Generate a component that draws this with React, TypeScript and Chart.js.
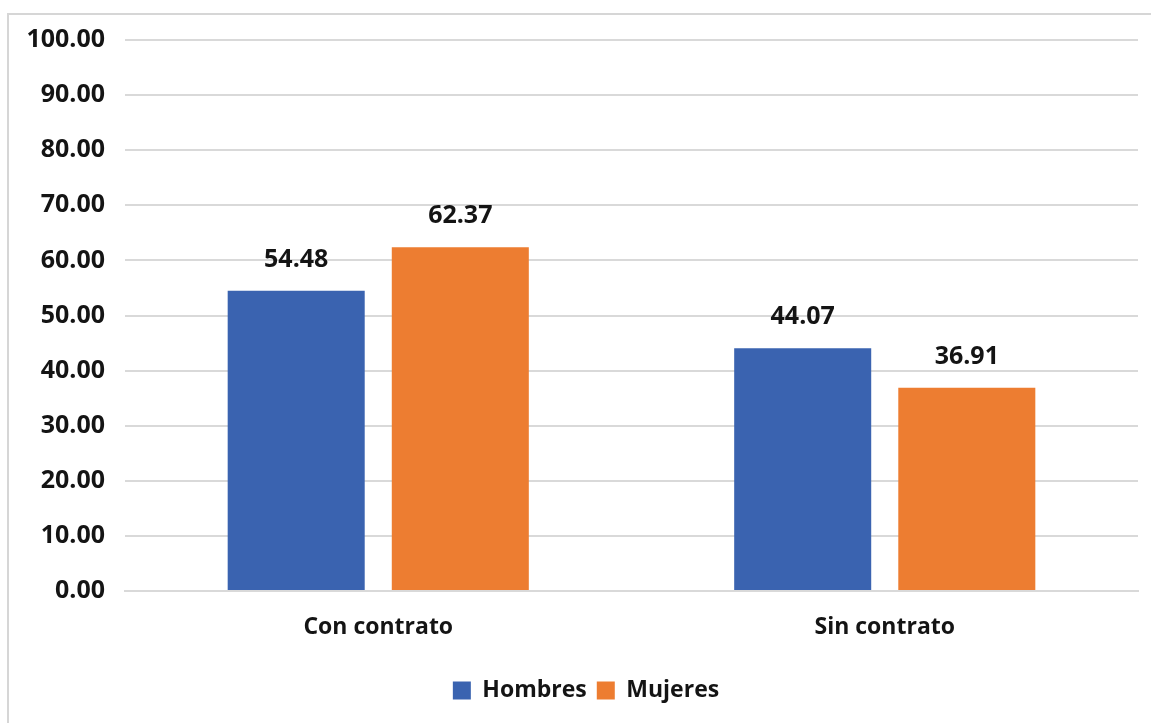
import React, { useEffect, useRef } from "react";
import { Chart, registerables } from "chart.js";

Chart.register(...registerables);

const categories = ["Con contrato", "Sin contrato"];
const hombres = [54.48, 44.07];
const mujeres = [62.37, 36.91];
const seriesNames = ["Hombres", "Mujeres"];
const yTicks = [0, 10, 20, 30, 40, 50, 60, 70, 80, 90, 100];

const BLUE = "#3A63B0";
const ORANGE = "#ED7D31";
const FONT = "'Open Sans', Lato, sans-serif";
const TEXT = "#141414";

const valueLabels = {
  id: "valueLabels",
  afterDatasetsDraw(chart: any) {
    const ctx = chart.ctx;
    ctx.save();
    ctx.font = `bold 25px ${FONT}`;
    ctx.fillStyle = TEXT;
    ctx.textAlign = "center";
    ctx.textBaseline = "middle";
    chart.data.datasets.forEach((ds: any, i: number) => {
      const meta = chart.getDatasetMeta(i);
      meta.data.forEach((el: any, j: number) => {
        ctx.fillText(Number(ds.data[j]).toFixed(2), el.x, el.y - 31);
      });
    });
    ctx.restore();
  },
};

// centre the legend a little to the right, as in the reference
const legendShift = {
  id: "legendShift",
  afterLayout(chart: any) {
    const lg = chart.legend;
    if (lg) {
      lg.left += 34;
    }
  },
};

export default function App() {
  const ref = useRef<HTMLCanvasElement>(null);
  useEffect(() => {
    if (!ref.current) return;
    const chart = new Chart(ref.current, {
      type: "bar",
      data: {
        labels: categories,
        datasets: [
          { label: seriesNames[0], data: hombres, backgroundColor: BLUE },
          { label: seriesNames[1], data: mujeres, backgroundColor: ORANGE },
        ],
      },
      options: {
        animation: false,
        responsive: false,
        devicePixelRatio: 1,
        layout: { padding: { top: 40, right: 13, bottom: 11, left: 0 } },
        datasets: {
          bar: { categoryPercentage: 0.648, barPercentage: 0.835 },
        } as any,
        scales: {
          x: {
            grid: { display: false },
            border: { color: "#d9d9d9", width: 2 },
            ticks: {
              color: TEXT,
              font: { family: FONT, size: 23, weight: "bold" },
              padding: 15,
            },
            afterFit: (scale: any) => {
              scale.height = 78;
            },
          },
          y: {
            min: 0,
            max: 100,
            afterBuildTicks: (scale: any) => {
              scale.ticks = yTicks.map((v) => ({ value: v }));
            },
            grid: { color: "#d9d9d9", lineWidth: 2, drawTicks: false },
            border: { display: false },
            ticks: {
              color: TEXT,
              font: { family: FONT, size: 25, weight: "bold" },
              padding: 20,
              callback: (v: any) => Number(v).toFixed(2),
            },
            afterFit: (scale: any) => {
              scale.width = 125;
            },
          },
        },
        plugins: {
          legend: {
            position: "bottom",
            labels: {
              color: TEXT,
              font: { family: FONT, size: 23, weight: "bold" },
              boxWidth: 18,
              boxHeight: 18,
              padding: 10,
            },
          },
          tooltip: { enabled: false },
          title: { display: false },
        },
      },
      plugins: [valueLabels, legendShift],
    });
    return () => chart.destroy();
  }, []);

  return (
    <div
      style={{
        position: "fixed",
        left: 0,
        top: 0,
        width: 1151,
        height: 723,
        background: "#fff",
        overflow: "hidden",
      }}
    >
      <div
        style={{
          position: "absolute",
          left: 7,
          top: 13,
          width: 1160,
          height: 730,
          border: "2px solid #d6d6d6",
        }}
      />
      <canvas
        ref={ref}
        width={1151}
        height={723}
        style={{ position: "absolute", left: 0, top: 0 }}
      />
    </div>
  );
}
